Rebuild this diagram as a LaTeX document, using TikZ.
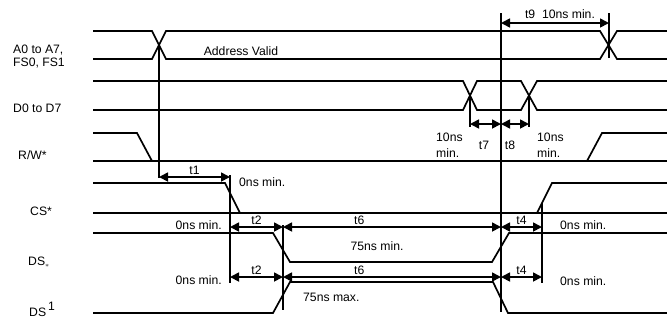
\documentclass[tikz,border=0pt]{standalone}
\usepackage{fontspec}
\setmainfont{Liberation Sans}
\usepackage{tikz}
\usetikzlibrary{arrows.meta, positioning, calc}
\tikzset{
    wave/.style={line width=1.7pt, line join=miter},
    marker/.style={line width=1.7pt},
    dim/.style={line width=1.7pt, {Triangle[length=9pt,width=9pt]}-{Triangle[length=9pt,width=9pt]}},
    lab/.style={font=\fontsize{12.2}{13}\selectfont, inner sep=0pt},
    twolab/.style={lab, align=left, anchor=west, font=\fontsize{12.2}{16}\selectfont},
}

\begin{document}
\begin{tikzpicture}[x=1pt, y=-1pt]
    \useasboundingbox (0,0) rectangle (667,322);

    % signal names
    \node[lab, anchor=west, align=left] (sigA) at (13,57) {A0 to A7,\\FS0, FS1};
    \node[lab, anchor=west] (sigD) at (13,108) {D0 to D7};
    \node[lab, anchor=west] (sigRW) at (18,155) {R/W*};
    \node[lab, anchor=west] (sigCS) at (30,211) {CS*};
    \node[lab, anchor=west] (sigDSa) at (28,262) {DS\raisebox{-2pt}{\scriptsize$\ast$}};
    \node[lab, anchor=west] (sigDSb) at (29,309) {DS\,\raisebox{6pt}{1}};

    % waveforms
    \draw[wave] (93,31) -- (152,31) -- (166,59) -- (600,59) -- (617,31) -- (667,31);
    \draw[wave] (93,59) -- (152,59) -- (166,31) -- (600,31) -- (617,59) -- (667,59);
    \node[lab] (addr) at (241,51) {Address Valid};
    \draw[wave] (93,81) -- (463,81) -- (477,110) -- (521,110) -- (537,81) -- (667,81);
    \draw[wave] (93,110) -- (463,110) -- (477,81) -- (521,81) -- (537,110) -- (667,110);
    \draw[wave] (93,133) -- (137,133) -- (152,161);
    \draw[wave] (93,161) -- (667,161);
    \draw[wave] (587,161) -- (602,133) -- (667,133);
    \draw[wave] (93,183) -- (225,183) -- (240,213);
    \draw[wave] (93,213) -- (667,213);
    \draw[wave] (537,213) -- (552,183) -- (667,183);
    \draw[wave] (93,233) -- (273,233) -- (290,262) -- (492,262) -- (509,233) -- (667,233);
    \draw[wave] (93,313) -- (273,313) -- (290,282) -- (493,282) -- (508,313) -- (667,313);

    % timing markers
    \coordinate (aTop) at (159,45);   \coordinate (aBot) at (159,178);
    \coordinate (bTop) at (230,175);  \coordinate (bBot) at (230,283);
    \coordinate (cTop) at (283,225);  \coordinate (cBot) at (283,310);
    \coordinate (dTop) at (501,13);   \coordinate (dBot) at (501,312);
    \coordinate (eTop) at (542,203);  \coordinate (eBot) at (542,283);
    \coordinate (fTop) at (470,96);   \coordinate (fBot) at (470,127);
    \coordinate (gTop) at (529,96);   \coordinate (gBot) at (529,127);
    \coordinate (hTop) at (609,13);   \coordinate (hBot) at (609,58);
    \foreach \m in {a,b,c,d,e,f,g,h}
        \draw[marker] (\m Top) -- (\m Bot);

    \coordinate (rowNine) at (0,23);
    \coordinate (rowSeven) at (0,124);
    \coordinate (rowOne) at (0,177);
    \coordinate (rowA) at (0,227);
    \coordinate (rowB) at (0,277);

    \draw[dim] (dTop |- rowNine) -- node[lab, above=4pt, xshift=5pt] (t9lab) {t9\ \ 10ns min.} (hTop |- rowNine);
    \draw[dim] (fTop |- rowSeven) -- (dTop |- rowSeven);
    \draw[dim] (dTop |- rowSeven) -- (gTop |- rowSeven);
    \node[lab] (t7lab) at (484,145) {t7};
    \node[lab] (t8lab) at (510,145) {t8};
    \node[twolab] (minL) at (436,145) {10ns\\min.};
    \node[twolab] (minR) at (537,145) {10ns\\min.};

    \draw[dim] (aTop |- rowOne) -- node[lab, above=1.5pt] (t1lab) {t1} (bTop |- rowOne);
    \node[lab, anchor=west] (t1min) at (239,182) {0ns min.};

    \draw[dim] (bTop |- rowA) -- node[lab, above=2pt] (t2lab) {t2} (cTop |- rowA);
    \draw[dim] (cTop |- rowA) -- node[lab, above=2pt, pos=0.35] (t6lab) {t6} (dTop |- rowA);
    \draw[dim] (dTop |- rowA) -- node[lab, above=2pt] (t4lab) {t4} (eTop |- rowA);
    \node[lab, anchor=east] (t2min) at (222,225) {0ns min.};
    \node[lab] (t6min) at (377,246) {75ns min.};
    \node[lab, anchor=west] (t4min) at (560,225) {0ns min.};

    \draw[dim] (bTop |- rowB) -- node[lab, above=2pt] (t2labB) {t2} (cTop |- rowB);
    \draw[dim] (cTop |- rowB) -- node[lab, above=2pt, pos=0.35] (t6labB) {t6} (dTop |- rowB);
    \draw[dim] (dTop |- rowB) -- node[lab, above=2pt] (t4labB) {t4} (eTop |- rowB);
    \node[lab, anchor=east] (t2minB) at (222,280) {0ns min.};
    \node[lab, anchor=west] (t6max) at (303,297) {75ns max.};
    \node[lab, anchor=west] (t4minB) at (560,281) {0ns min.};
\end{tikzpicture}
\end{document}
